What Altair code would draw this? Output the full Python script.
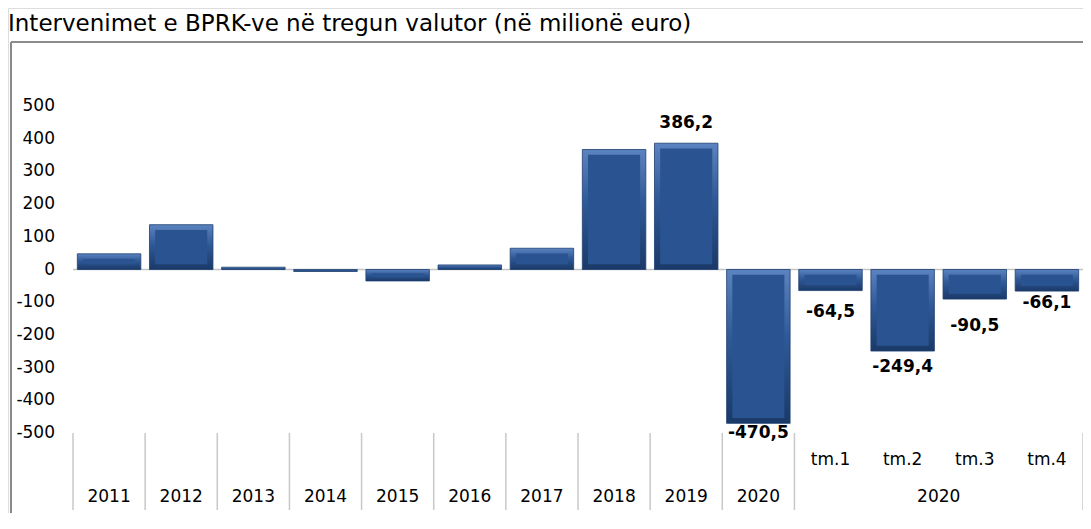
import altair as alt
import pandas as pd

# ---- data ----
years = ["2011", "2012", "2013", "2014", "2015", "2016", "2017", "2018", "2019", "2020"]
annual_values = [48, 137, 7, -6, -35, 14, 65, 367, 386.2, -470.5]
quarters = ["tm.1", "tm.2", "tm.3", "tm.4"]
quarter_values = [-64.5, -249.4, -90.5, -66.1]
group_label = "2020"
y_ticks = [-500, -400, -300, -200, -100, 0, 100, 200, 300, 400, 500]
labelled_keys = ["2019", "2020", "tm.1", "tm.2", "tm.3", "tm.4"]
title_text = "Intervenimet e BPRK-ve në tregun valutor  (në milionë euro)"

keys = years + quarters
values = annual_values + quarter_values
df = pd.DataFrame({"key": keys, "value": values})
df["label"] = [f"{v:.1f}".replace(".", ",") for v in values]

FONT = "DejaVu Sans"
W, H = 1075, 505

xscale = alt.Scale(domain=keys, range=[65, 1075], paddingInner=0.12, paddingOuter=0.06)
yscale = alt.Scale(domain=[-500, 500], range=[425, 98], nice=False)
X = lambda **kw: alt.X("key:N", scale=xscale, axis=None, sort=None, **kw)
Yv = alt.Y("value:Q", scale=yscale, axis=None)

one = pd.DataFrame({"a": [0]})

# frame (border) of the chart box
BORDER_Y = 34
border_left = alt.Chart(one).mark_rule(color="#888888", strokeWidth=2).encode(
    x=alt.value(3), y=alt.value(BORDER_Y), y2=alt.value(H))
border_top = alt.Chart(one).mark_rule(color="#8c8c8c", strokeWidth=2).encode(
    x=alt.value(3), x2=alt.value(W), y=alt.value(BORDER_Y))

title = alt.Chart(one).mark_text(align="left", baseline="top", font=FONT,
                                 fontSize=23, color="#000000").encode(
    x=alt.value(0), y=alt.value(5), text=alt.value(title_text))

# zero line
zero = alt.Chart(pd.DataFrame({"z": [0]})).mark_rule(color="#c4c4c4", strokeWidth=1.5).encode(
    y=alt.Y("z:Q", scale=yscale, axis=None), x=alt.value(65), x2=alt.value(1075))

# y tick labels
ytick_df = pd.DataFrame({"t": y_ticks, "lab": [str(t) for t in y_ticks]})
ylabels = alt.Chart(ytick_df).mark_text(align="right", baseline="middle", font=FONT,
                                        fontSize=17, color="#000000").encode(
    y=alt.Y("t:Q", scale=yscale, axis=None), x=alt.value(47), text="lab:N")

# bars: bevel-like outer frame + inner face
grad = alt.Gradient(gradient="linear",
                    stops=[alt.GradientStop(color="#5b83bf", offset=0),
                           alt.GradientStop(color="#2f5996", offset=0.45),
                           alt.GradientStop(color="#1a3968", offset=1)],
                    x1=0, x2=0, y1=0, y2=1)
bars_outer = alt.Chart(df).mark_bar(color=grad, stroke="#1d3f70", strokeWidth=0.8).encode(
    x=X(), y=Yv, y2=alt.datum(0))

bars_inner = alt.Chart(df).transform_filter("abs(datum.value) > 20").transform_calculate(
    k="min(16, abs(datum.value) / 3)",
    s="datum.value > 0 ? 1 : -1",
    vin="datum.value - datum.s * datum.k",
    bin="datum.s * datum.k",
).mark_bar(color="#2a5491", width=alt.RelativeBandSize(0.82)).encode(
    x=X(), y=alt.Y("vin:Q", scale=yscale, axis=None), y2="bin:Q")

# value labels (manually placed in the reference)
label_dy = {"2019": -20, "2020": 10, "tm.1": 21, "tm.2": 15.5, "tm.3": 27, "tm.4": 12}
value_labels = []
for k in labelled_keys:
    value_labels.append(
        alt.Chart(df).transform_filter(alt.datum.key == k).mark_text(
            font=FONT, fontSize=17, fontWeight="bold", baseline="middle",
            align="center", dy=label_dy[k], color="#000000").encode(
            x=X(), y=Yv, text="label:N"))

# category axis: separators and two-tier labels
step_pad = (1075 - 65) / len(keys) * 0.06
sep_start = pd.DataFrame({"key": years + ["tm.1"]})
seps = alt.Chart(sep_start).mark_rule(color="#c8c8c8", strokeWidth=1.5, xOffset=-step_pad).encode(
    x=X(bandPosition=0), y=alt.value(425), y2=alt.value(502))
sep_end = alt.Chart(pd.DataFrame({"key": [quarters[-1]]})).mark_rule(
    color="#c8c8c8", strokeWidth=1.5, xOffset=step_pad).encode(
    x=X(bandPosition=1), y=alt.value(425), y2=alt.value(502))

q_labels = alt.Chart(pd.DataFrame({"key": quarters})).mark_text(
    font=FONT, fontSize=17, baseline="middle", color="#000000").encode(
    x=X(), y=alt.value(452), text="key:N")
y_labels = alt.Chart(pd.DataFrame({"key": years})).mark_text(
    font=FONT, fontSize=17, baseline="middle", color="#000000").encode(
    x=X(), y=alt.value(489), text="key:N")
g_label = alt.Chart(pd.DataFrame({"key": [quarters[2]], "lab": [group_label]})).mark_text(
    font=FONT, fontSize=17, baseline="middle", color="#000000", xOffset=-step_pad).encode(
    x=X(bandPosition=0), y=alt.value(489), text="lab:N")

chart = alt.layer(
    border_left, border_top, title, zero, ylabels,
    bars_outer, bars_inner, *value_labels,
    seps, sep_end, q_labels, y_labels, g_label,
).properties(
    width=W, height=H,
    autosize=alt.AutoSizeParams(type="none"),
    padding=0,
).configure_view(stroke=None).configure(background="white")

chart.save("out.html", embed_options={"renderer": "svg", "actions": False})
